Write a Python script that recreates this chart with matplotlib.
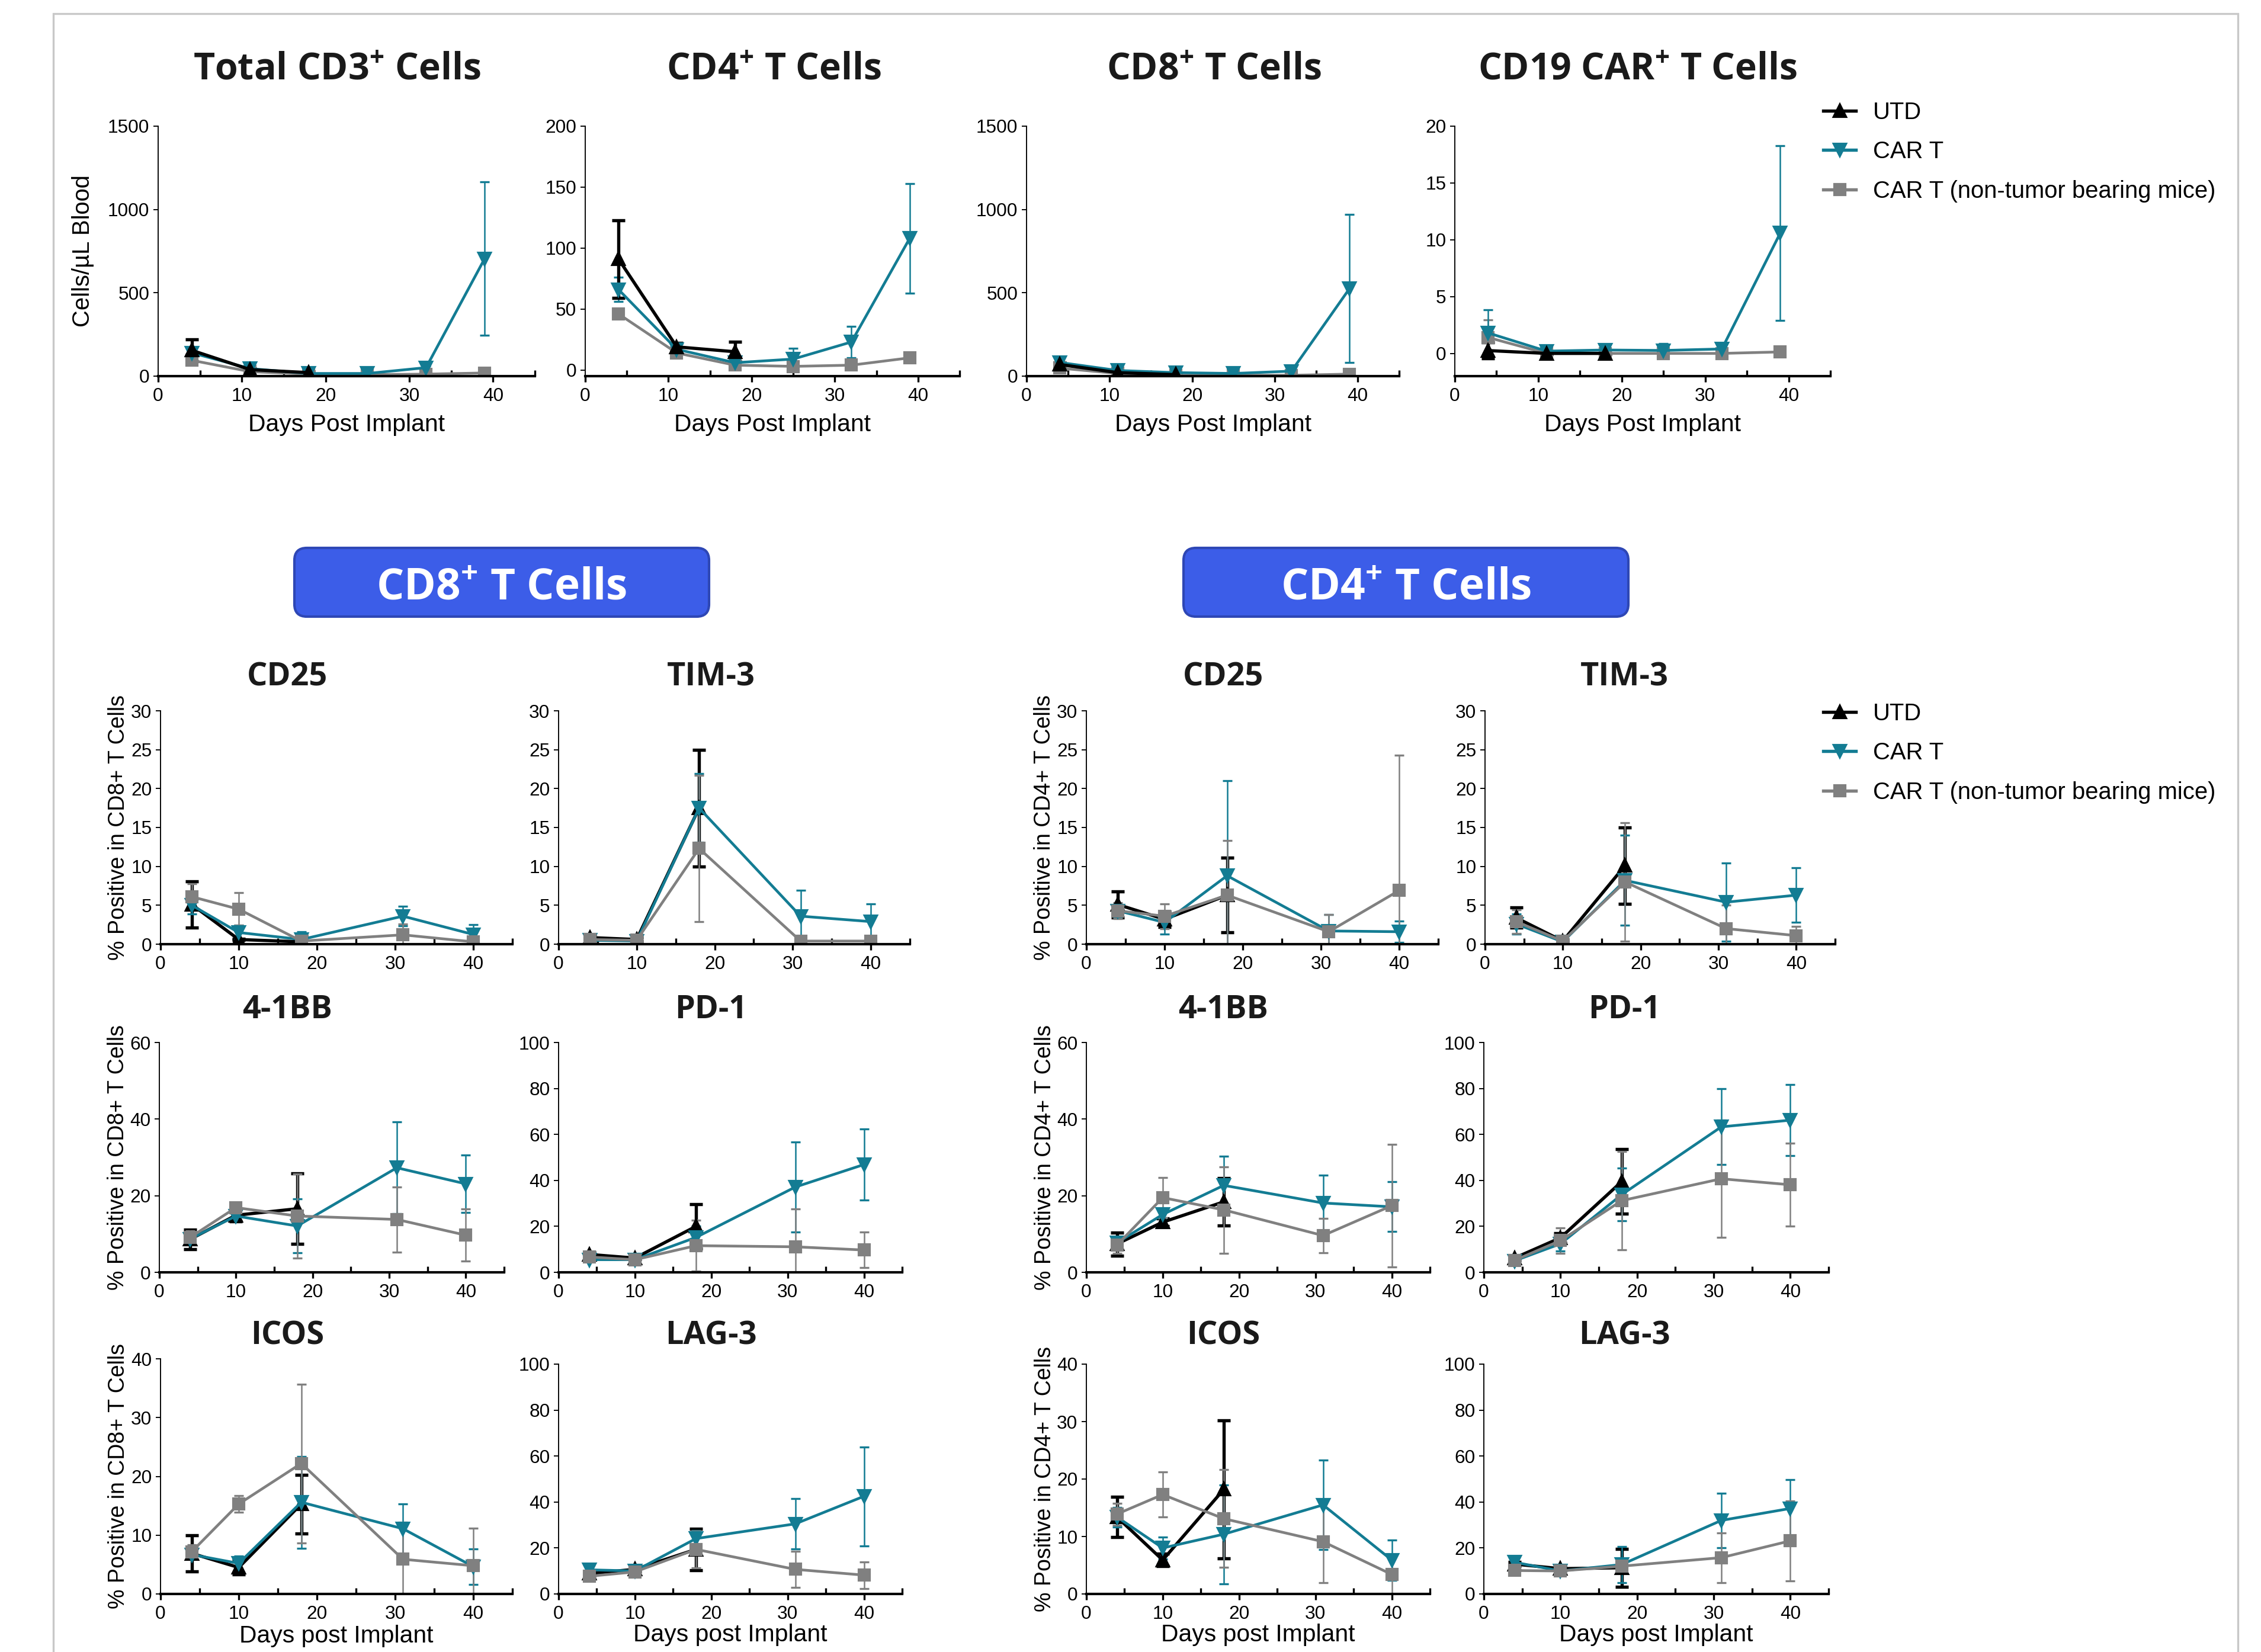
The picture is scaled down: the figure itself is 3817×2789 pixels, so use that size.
import matplotlib
matplotlib.use("Agg")
import matplotlib.pyplot as plt
from matplotlib.lines import Line2D
from matplotlib.patches import Rectangle, FancyBboxPatch
from matplotlib.ticker import MultipleLocator

plt.rcParams['font.family'] = ['Liberation Sans', 'DejaVu Sans']
plt.rcParams['mathtext.fontset'] = 'custom'
plt.rcParams['mathtext.rm'] = 'Open Sans:bold'
plt.rcParams['mathtext.bf'] = 'Open Sans:bold'
plt.rcParams['mathtext.it'] = 'Open Sans:bold:italic'

# --- Data ---
days_blood_utd = [4, 11, 18]
days_blood = [4, 11, 18, 25, 32, 39]
days_utd = [4, 10, 18]
days = [4, 10, 18, 31, 40]

series_names = ['UTD', 'CAR T', 'CAR T (non-tumor bearing mice)']

# blood counts (cells/uL)
cd3_utd, cd3_utd_err = [155, 39, 21], [65, 8, 6]
cd3_car, cd3_car_err = [140, 45, 16, 16, 51, 705], [20, 10, 5, 8, 10, 460]
cd3_ntb, cd3_ntb_err = [95, 27, 12, 9, 12, 19], [25, 6, 4, 4, 4, 8]

cd4_utd, cd4_utd_err = [91, 19, 15], [32, 3, 8]
cd4_car, cd4_car_err = [66, 17, 6, 9, 23, 108], [10, 3, 2, 9, 13, 45]
cd4_ntb, cd4_ntb_err = [46, 14, 4, 3, 4, 10], [4, 2, 2, 3, 3, 2]

cd8_utd, cd8_utd_err = [70, 21, 9], [12, 5, 3]
cd8_car, cd8_car_err = [82, 34, 21, 16, 30, 525], [15, 8, 4, 5, 6, 445]
cd8_ntb, cd8_ntb_err = [48, 16, 5, 5, 5, 12], [15, 4, 2, 2, 2, 8]

car_utd, car_utd_err = [0.25, 0.0, 0.0], [0.7, 0.05, 0.05]
car_car, car_car_err = [1.8, 0.2, 0.3, 0.26, 0.39, 10.6], [2.05, 0.15, 0.2, 0.6, 0.3, 7.7]
car_ntb, car_ntb_err = [1.4, 0.0, 0.0, 0.0, 0.0, 0.13], [1.55, 0.05, 0.05, 0.45, 0.1, 0.2]

# % positive in CD8+ T cells
cd8_cd25_utd, cd8_cd25_utd_err = [5.1, 0.6, 0.3], [3.0, 0.1, 0.8]
cd8_cd25_car, cd8_cd25_car_err = [5.0, 1.5, 0.6, 3.6, 1.25], [1.1, 0.9, 1.0, 1.25, 1.3]
cd8_cd25_ntb, cd8_cd25_ntb_err = [6.1, 4.5, 0.4, 1.2, 0.3], [1.7, 2.1, 0.9, 1.4, 0.2]

cd8_tim3_utd, cd8_tim3_utd_err = [0.85, 0.6, 17.5], [0.3, 0.2, 7.5]
cd8_tim3_car, cd8_tim3_car_err = [0.5, 0.4, 17.5, 3.6, 2.9], [0.2, 0.2, 4.4, 3.3, 2.3]
cd8_tim3_ntb, cd8_tim3_ntb_err = [0.6, 0.5, 12.3, 0.4, 0.4], [0.3, 0.2, 9.4, 0.7, 0.2]

cd8_41bb_utd, cd8_41bb_utd_err = [8.6, 14.9, 16.6], [2.5, 1.6, 9.2]
cd8_41bb_car, cd8_41bb_car_err = [8.7, 14.7, 12.1, 27.3, 23.1], [1.5, 1.0, 7.0, 12.0, 7.5]
cd8_41bb_ntb, cd8_41bb_ntb_err = [9.1, 16.9, 14.7, 13.8, 9.7], [1.8, 0.8, 11.0, 8.5, 6.8]

cd8_pd1_utd, cd8_pd1_utd_err = [7.8, 6.2, 20.0], [1.0, 0.5, 9.7]
cd8_pd1_car, cd8_pd1_car_err = [5.5, 5.5, 15.2, 37.1, 46.9], [0.8, 0.5, 4.8, 19.5, 15.5]
cd8_pd1_ntb, cd8_pd1_ntb_err = [6.7, 5.5, 11.6, 11.1, 9.7], [1.2, 0.6, 11.0, 16.5, 7.7]

cd8_icos_utd, cd8_icos_utd_err = [6.9, 4.5, 15.3], [3.1, 1.2, 5.0]
cd8_icos_car, cd8_icos_car_err = [6.7, 5.2, 15.6, 11.1, 4.65], [0.7, 1.2, 7.8, 4.2, 3.0]
cd8_icos_ntb, cd8_icos_ntb_err = [7.2, 15.3, 22.2, 5.9, 4.8], [1.2, 1.4, 13.5, 6.3, 6.4]

cd8_lag3_utd, cd8_lag3_utd_err = [8.9, 10.7, 19.4], [1.0, 1.0, 9.0]
cd8_lag3_car, cd8_lag3_car_err = [10.5, 10.0, 24.1, 30.5, 42.5], [1.5, 1.0, 3.5, 11.0, 21.5]
cd8_lag3_ntb, cd8_lag3_ntb_err = [7.7, 9.6, 19.4, 10.7, 8.2], [1.0, 1.0, 8.0, 7.8, 5.8]

# % positive in CD4+ T cells
cd4_cd25_utd, cd4_cd25_utd_err = [5.1, 3.2, 6.3], [1.7, 1.0, 4.8]
cd4_cd25_car, cd4_cd25_car_err = [4.3, 2.8, 8.8, 1.7, 1.6], [0.8, 1.5, 12.2, 2.1, 1.4]
cd4_cd25_ntb, cd4_cd25_ntb_err = [4.3, 3.6, 6.3, 1.6, 6.9], [1.0, 1.6, 7.0, 2.2, 17.4]

cd4_tim3_utd, cd4_tim3_utd_err = [3.4, 0.4, 10.1], [1.3, 0.2, 4.9]
cd4_tim3_car, cd4_tim3_car_err = [2.6, 0.3, 8.2, 5.4, 6.3], [1.3, 0.2, 5.8, 5.0, 3.5]
cd4_tim3_ntb, cd4_tim3_ntb_err = [2.9, 0.4, 8.0, 2.0, 1.1], [1.5, 0.2, 7.6, 3.0, 1.2]

cd4_41bb_utd, cd4_41bb_utd_err = [7.4, 13.1, 18.4], [3.0, 1.0, 6.2]
cd4_41bb_car, cd4_41bb_car_err = [7.7, 15.1, 22.7, 18.1, 17.1], [1.0, 1.0, 7.6, 7.2, 6.5]
cd4_41bb_ntb, cd4_41bb_ntb_err = [7.1, 19.5, 16.3, 9.6, 17.4], [2.1, 5.3, 11.3, 4.5, 16.0]

cd4_pd1_utd, cd4_pd1_utd_err = [6.2, 15.0, 39.5], [1.0, 2.0, 14.0]
cd4_pd1_car, cd4_pd1_car_err = [5.0, 12.4, 33.8, 63.3, 66.2], [0.8, 3.0, 11.5, 16.5, 15.5]
cd4_pd1_ntb, cd4_pd1_ntb_err = [5.2, 13.8, 31.2, 40.7, 38.1], [1.0, 5.5, 21.5, 25.5, 18.0]

cd4_icos_utd, cd4_icos_utd_err = [13.4, 5.9, 18.2], [3.5, 1.1, 12.0]
cd4_icos_car, cd4_icos_car_err = [13.4, 8.0, 10.4, 15.5, 5.9], [1.7, 1.9, 8.6, 7.8, 3.5]
cd4_icos_ntb, cd4_icos_ntb_err = [13.9, 17.3, 13.1, 9.1, 3.4], [1.9, 3.9, 8.5, 7.1, 3.4]

cd4_lag3_utd, cd4_lag3_utd_err = [13.0, 11.0, 11.4], [1.0, 1.0, 8.3]
cd4_lag3_car, cd4_lag3_car_err = [13.8, 10.0, 12.8, 32.0, 37.2], [1.5, 1.5, 7.9, 11.8, 12.5]
cd4_lag3_ntb, cd4_lag3_ntb_err = [10.2, 10.0, 12.1, 15.8, 23.1], [1.0, 1.0, 2.0, 10.8, 17.4]

# --- Styling ---
TEAL = '#137C93'
GREY = '#808080'
STYLES = {
    'UTD': dict(color='black', marker='^', ms=5, lw=1.3, elinewidth=1.3, capsize=2.6, capthick=1.3),
    'CAR T': dict(color=TEAL, marker='v', ms=5, lw=1.1, elinewidth=0.6, capsize=2.0, capthick=0.8),
    'NTB': dict(color=GREY, marker='s', ms=4.3, lw=1.1, elinewidth=0.6, capsize=2.0, capthick=0.8),
}

W, H = 3817, 2789
fig = plt.figure(figsize=(W / 300, H / 300), dpi=300)


def px_axes(x0, y_top, x1, y_bot):
    return fig.add_axes([x0 / W, 1 - y_bot / H, (x1 - x0) / W, (y_bot - y_top) / H])


def panel(rect, ylim, ystep, data, order):
    ax = px_axes(*rect)
    for key in order:
        x, y, e = data[key]
        st = STYLES[key]
        ax.errorbar(x, y, yerr=e, color=st['color'], marker=st['marker'], ms=st['ms'],
                    lw=st['lw'], elinewidth=st['elinewidth'], capsize=st['capsize'],
                    capthick=st['capthick'], mec=st['color'])
    ax.set_xlim(0, 45)
    ax.set_ylim(*ylim)
    ax.set_xticks([0, 10, 20, 30, 40])
    ax.xaxis.set_minor_locator(MultipleLocator(5))
    ax.set_yticks(list(range(0, int(ylim[1]) + 1, ystep)))
    for s in ('top', 'right'):
        ax.spines[s].set_visible(False)
    ax.spines['bottom'].set_linewidth(1.0)
    ax.spines['left'].set_linewidth(0.45)
    ax.tick_params(axis='x', which='major', direction='out', length=2.5, width=0.8,
                   labelsize=7.6, pad=2)
    ax.tick_params(axis='x', which='minor', direction='in', length=2.5, width=0.8)
    ax.tick_params(axis='y', direction='out', length=2.0, width=0.45, labelsize=7.6, pad=1.5)
    return ax


top_order = ['NTB', 'CAR T', 'UTD']
low_order = ['UTD', 'CAR T', 'NTB']

# --- Top row: blood counts ---
ax = panel((267, 213, 903, 635), (0, 1500), 500, {
    'UTD': (days_blood_utd, cd3_utd, cd3_utd_err),
    'CAR T': (days_blood, cd3_car, cd3_car_err),
    'NTB': (days_blood, cd3_ntb, cd3_ntb_err)}, top_order)
ax.set_ylabel('Cells/µL Blood', fontsize=9.6)
ax.yaxis.set_label_coords(-0.17, 0.5)
top_axes = [ax]
ax = panel((988, 213, 1620, 635), (-5, 200), 50, {
    'UTD': (days_blood_utd, cd4_utd, cd4_utd_err),
    'CAR T': (days_blood, cd4_car, cd4_car_err),
    'NTB': (days_blood, cd4_ntb, cd4_ntb_err)}, top_order)
top_axes.append(ax)
ax = panel((1733, 213, 2362, 635), (0, 1500), 500, {
    'UTD': (days_blood_utd, cd8_utd, cd8_utd_err),
    'CAR T': (days_blood, cd8_car, cd8_car_err),
    'NTB': (days_blood, cd8_ntb, cd8_ntb_err)}, top_order)
top_axes.append(ax)
ax = panel((2456, 213, 3090, 635), (-2, 20), 5, {
    'UTD': (days_blood_utd, car_utd, car_utd_err),
    'CAR T': (days_blood, car_car, car_car_err),
    'NTB': (days_blood, car_ntb, car_ntb_err)}, top_order)
top_axes.append(ax)
for ax in top_axes:
    ax.set_xlabel('Days Post Implant', fontsize=9.8)
    ax.xaxis.set_label_coords(0.5, -0.15)

top_titles = [('Total CD3$^{+}$ Cells', 569), ('CD4$^{+}$ T Cells', 1307),
              ('CD8$^{+}$ T Cells', 2050), ('CD19 CAR$^{+}$ T Cells', 2765)]
for t, xp in top_titles:
    fig.text(xp / W, 1 - 119 / H, t, ha='center', va='center', fontsize=15,
             family='Open Sans', weight='bold', color='#1a1a1a')

# --- Section headers ---
for label, x0, x1 in [('CD8$^{+}$ T Cells', 497, 1197), ('CD4$^{+}$ T Cells', 1998, 2749)]:
    box = FancyBboxPatch((x0 / 300, (H - 1041) / 300), (x1 - x0) / 300, 116 / 300,
                         boxstyle='round,pad=0,rounding_size=0.07',
                         transform=fig.dpi_scale_trans, facecolor='#3C5DE8',
                         edgecolor='#2E47B5', lw=1.0)
    fig.add_artist(box)
    fig.text((x0 + x1) / 2 / W, 1 - 994 / H, label, ha='center', va='center', fontsize=17.5,
             family='Open Sans', weight='bold', color='white')

# --- Lower grid ---
col_x = [(271, 865), (943, 1536), (1834, 2428), (2507, 3098)]
row1 = (1200, 1594)
row2 = (1760, 2148)
row3 = [(2294, 2691), (2303, 2691), (2303, 2691), (2303, 2691)]

grid = [
    # row 1
    (0, row1, (0, 30), 5, 'CD25', cd8_cd25_utd, cd8_cd25_utd_err, cd8_cd25_car, cd8_cd25_car_err, cd8_cd25_ntb, cd8_cd25_ntb_err),
    (1, row1, (0, 30), 5, 'TIM-3', cd8_tim3_utd, cd8_tim3_utd_err, cd8_tim3_car, cd8_tim3_car_err, cd8_tim3_ntb, cd8_tim3_ntb_err),
    (2, row1, (0, 30), 5, 'CD25', cd4_cd25_utd, cd4_cd25_utd_err, cd4_cd25_car, cd4_cd25_car_err, cd4_cd25_ntb, cd4_cd25_ntb_err),
    (3, row1, (0, 30), 5, 'TIM-3', cd4_tim3_utd, cd4_tim3_utd_err, cd4_tim3_car, cd4_tim3_car_err, cd4_tim3_ntb, cd4_tim3_ntb_err),
    # row 2
    (0, row2, (0, 60), 20, '4-1BB', cd8_41bb_utd, cd8_41bb_utd_err, cd8_41bb_car, cd8_41bb_car_err, cd8_41bb_ntb, cd8_41bb_ntb_err),
    (1, row2, (0, 100), 20, 'PD-1', cd8_pd1_utd, cd8_pd1_utd_err, cd8_pd1_car, cd8_pd1_car_err, cd8_pd1_ntb, cd8_pd1_ntb_err),
    (2, row2, (0, 60), 20, '4-1BB', cd4_41bb_utd, cd4_41bb_utd_err, cd4_41bb_car, cd4_41bb_car_err, cd4_41bb_ntb, cd4_41bb_ntb_err),
    (3, row2, (0, 100), 20, 'PD-1', cd4_pd1_utd, cd4_pd1_utd_err, cd4_pd1_car, cd4_pd1_car_err, cd4_pd1_ntb, cd4_pd1_ntb_err),
    # row 3
    (0, row3[0], (0, 40), 10, 'ICOS', cd8_icos_utd, cd8_icos_utd_err, cd8_icos_car, cd8_icos_car_err, cd8_icos_ntb, cd8_icos_ntb_err),
    (1, row3[1], (0, 100), 20, 'LAG-3', cd8_lag3_utd, cd8_lag3_utd_err, cd8_lag3_car, cd8_lag3_car_err, cd8_lag3_ntb, cd8_lag3_ntb_err),
    (2, row3[2], (0, 40), 10, 'ICOS', cd4_icos_utd, cd4_icos_utd_err, cd4_icos_car, cd4_icos_car_err, cd4_icos_ntb, cd4_icos_ntb_err),
    (3, row3[3], (0, 100), 20, 'LAG-3', cd4_lag3_utd, cd4_lag3_utd_err, cd4_lag3_car, cd4_lag3_car_err, cd4_lag3_ntb, cd4_lag3_ntb_err),
]

title_x = [485, 1200, 2065, 2742]
title_y = {row1: 1143, row2: 1705}
for i, (c, (yt, yb), ylim, ystep, name, u, ue, cr, cre, n, ne) in enumerate(grid):
    x0, x1 = col_x[c]
    if i >= 8:
        x0, x1 = [(271, 865), (943, 1523), (1834, 2414), (2505, 3087)][c]
    elif i >= 4:
        x0, x1 = [(269, 851), (943, 1523), (1834, 2414), (2505, 3087)][c]
    ax = panel((x0, yt, x1, yb), ylim, ystep, {
        'UTD': (days_utd, u, ue), 'CAR T': (days, cr, cre), 'NTB': (days, n, ne)}, low_order)
    ty = title_y.get((yt, yb), 2255)
    fig.text(title_x[c] / W, 1 - ty / H, name, ha='center', va='center', fontsize=13,
             family='Open Sans', weight='bold', color='#1a1a1a')
    if c in (0, 2):
        cell = 'CD8+' if c == 0 else 'CD4+'
        ax.set_ylabel(f'% Positive in {cell} T Cells', fontsize=9.0)
        ax.yaxis.set_label_coords(-0.09, 0.5)
    if i >= 8:
        ax.set_xlabel('Days post Implant', fontsize=9.8)
        ax.xaxis.set_label_coords(0.5, -0.13)

# --- Legends ---
handles = [
    Line2D([], [], color='black', marker='^', ms=5, lw=1.3),
    Line2D([], [], color=TEAL, marker='v', ms=5, lw=1.3),
    Line2D([], [], color=GREY, marker='s', ms=4.3, lw=1.3),
]
for ytop in (171, 1186):
    fig.legend(handles, series_names, loc='upper left', bbox_to_anchor=(3078 / W, 1 - ytop / H),
               frameon=False, fontsize=9.6, handlelength=1.38, handletextpad=0.72,
               labelspacing=0.71, borderpad=0, borderaxespad=0)

# --- Outer frame ---
fig.add_artist(Rectangle((90 / W, -0.02), (3778 - 90) / W, (H - 23) / H + 0.02,
                         transform=fig.transFigure, fill=False, edgecolor='#C8C8C8', lw=0.8))

fig.savefig('out.png', dpi=300)
